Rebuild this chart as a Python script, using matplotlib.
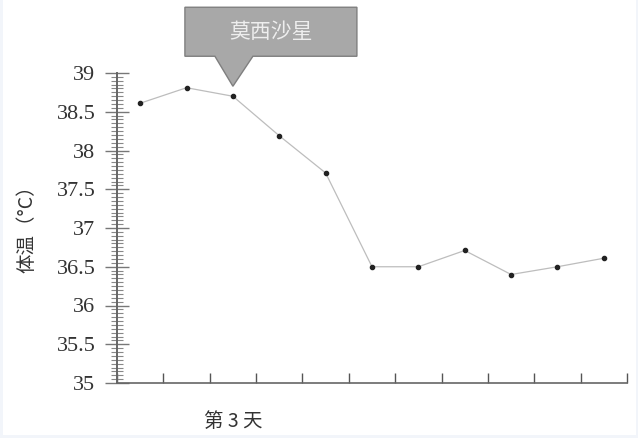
import numpy as np
import matplotlib.pyplot as plt
from matplotlib.patches import Polygon, Rectangle
from matplotlib.ticker import MultipleLocator, FixedLocator

# --- data ---
days = list(range(11))
temps = [38.61, 38.81, 38.70, 38.19, 37.71, 36.50, 36.50, 36.71, 36.40, 36.50, 36.61]
day_labels = ['', '', '第 3 天', '', '', '', '', '', '', '', '']
y_ticks = [35, 35.5, 36, 36.5, 37, 37.5, 38, 38.5, 39]
callout_text = '莫西沙星'
callout_day = 2

FONTS = ['Liberation Serif', 'Noto Sans CJK SC']
CJK = ['Noto Sans CJK SC', 'Liberation Serif']
plt.rcParams['font.family'] = FONTS

W, H = 638, 438
fig = plt.figure(figsize=(W / 100, H / 100), dpi=100)
fig.patch.set_facecolor('#f2f5fa')
# white page inside a thin frame (behind everything)
fig.patches.append(Rectangle((3 / W, 3 / H), 633 / W, 435 / H, transform=fig.transFigure,
                             facecolor='white', edgecolor='none', zorder=-10))

ax = fig.add_axes([117 / W, 1 - 383 / H, 510 / W, 310 / H])
ax.set_facecolor('none')

ax.plot(days, temps, color='#bdbdbd', linewidth=0.9, marker='o', markersize=3,
        markerfacecolor='#222222', markeredgecolor='#222222', zorder=3)

ax.set_xlim(-0.5, 10.5)
ax.set_ylim(35, 39)

# spines
for s in ['top', 'right']:
    ax.spines[s].set_visible(False)
ax.spines['left'].set_color('#666666')
ax.spines['bottom'].set_color('#666666')
ax.spines['left'].set_linewidth(1.4)
ax.spines['bottom'].set_linewidth(1.2)

# y axis: ruler-like ticks
ax.yaxis.set_major_locator(FixedLocator(y_ticks))
ax.set_yticklabels([f'{v:g}' for v in y_ticks], fontsize=16, color='#333333')
ax.yaxis.set_minor_locator(MultipleLocator(0.05))
ax.tick_params(axis='y', which='major', direction='inout', length=17, width=1.0,
               color='#777777', pad=7)
ax.tick_params(axis='y', which='minor', direction='inout', length=8, width=0.8,
               color='#888888')

# x axis: ticks at day boundaries, label under day 3
ax.xaxis.set_major_locator(FixedLocator(np.arange(-0.5, 11, 1)))
ax.xaxis.set_minor_locator(FixedLocator(days))
ax.tick_params(axis='x', which='major', direction='in', length=7, width=1.0,
               color='#555555', labelbottom=False)
ax.tick_params(axis='x', which='minor', length=0, pad=20)
ax.set_xticklabels(day_labels, minor=True, fontsize=14, color='#333333', family=CJK)

fig.text(27 / W, 1 - 224 / H, '体温（°C）', rotation=90, ha='center', va='center',
         fontsize=14, color='#333333', family=CJK)

# callout box pointing at day 3
px, py = ax.transData.transform((callout_day, temps[callout_day]))
tip_y = py + 10
box = [(px - 48, tip_y + 30), (px - 48, tip_y + 79), (px + 124, tip_y + 79),
       (px + 124, tip_y + 30), (px + 20, tip_y + 30), (px, tip_y), (px - 18, tip_y + 30)]
box = [(x / W, y / H) for x, y in box]
fig.patches.append(Polygon(box, closed=True, transform=fig.transFigure,
                           facecolor='#a8a8a8', edgecolor='#7f7f7f', linewidth=1.0, zorder=5))
fig.text((px + 38) / W, (tip_y + 54) / H, callout_text, ha='center', va='center',
         fontsize=15, color='#eeeeee', family=CJK, zorder=6)

fig.savefig('out.png', dpi=100)
